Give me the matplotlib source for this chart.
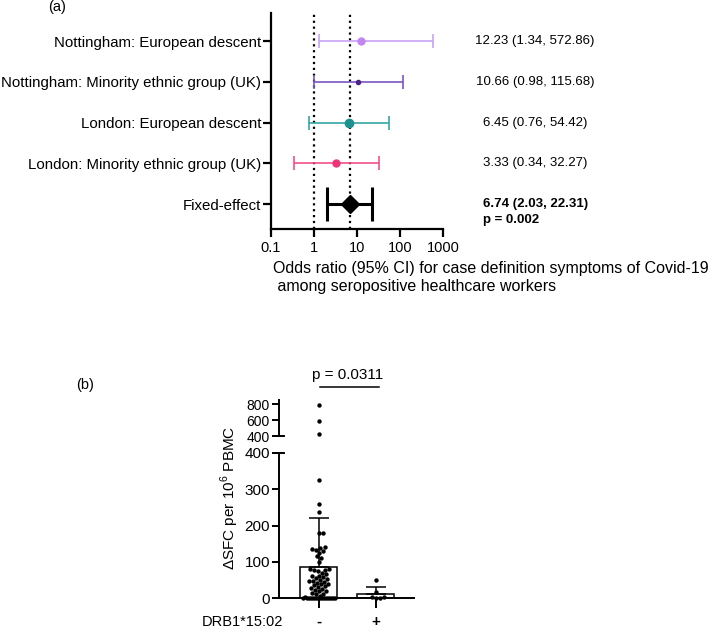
import numpy as np
import matplotlib
matplotlib.use('Agg')
import matplotlib.pyplot as plt
from matplotlib.ticker import NullLocator
from matplotlib.transforms import blended_transform_factory

plt.rcParams['font.family'] = ['Liberation Sans', 'DejaVu Sans']
plt.rcParams['mathtext.fontset'] = 'custom'
plt.rcParams['mathtext.rm'] = 'Liberation Sans'

# (a) odds ratios por grupo
grupos = ['Nottingham: European descent',
          'Nottingham: Minority ethnic group (UK)',
          'London: European descent',
          'London: Minority ethnic group (UK)',
          'Fixed-effect']
odds = [12.23, 10.66, 6.45, 3.33, 6.74]
ic_bajo = [1.34, 0.98, 0.76, 0.34, 2.03]
ic_alto = [572.86, 115.68, 54.42, 32.27, 22.31]
p_fijo = '0.002'
ticks_or = [0.1, 1, 10, 100, 1000]
etiq_or = ['0.1', '1', '10', '100', '1000']

# (b) SFC por grupo DRB1*15:02
sfc_neg = [790, 590, 425, 325, 260, 238, 180, 178, 140, 138, 135, 132, 130,
           125, 115, 110, 100, 80, 80, 78, 76, 75, 70, 65, 62, 60, 58, 55,
           52, 50, 48, 46, 45, 42, 40, 38, 35, 33, 30, 28, 25, 22, 20, 18,
           15, 12, 10, 5, 3] + [0] * 16
sfc_pos = [49, 17, 3, 2, 0, 0]
categorias = ['-', '+']
p_b = '0.0311'

colores_linea = ['#c9a2f5', '#7a55c2', '#35a6a4', '#f0508a']
colores_punto = ['#c186f2', '#4a2386', '#1d918e', '#ee3478']
tam_punto = [5, 3, 6, 5]

W, H = 709, 630
fig = plt.figure(figsize=(W / 100, H / 100), dpi=100)


def caja(x0, y0, x1, y1):
    # pixeles -> fraccion de figura
    return [x0 / W, 1 - y1 / H, (x1 - x0) / W, (y1 - y0) / H]


# ---------------- (a)
ax1 = fig.add_axes(caja(271, 13, 443, 229))
filas = [5, 4, 3, 2, 1]
for i in range(4):
    ax1.errorbar(odds[i], filas[i],
                 xerr=[[odds[i] - ic_bajo[i]], [ic_alto[i] - odds[i]]],
                 fmt='o', color=colores_linea[i], mfc=colores_punto[i],
                 mec=colores_punto[i], ms=tam_punto[i], elinewidth=1.2,
                 capsize=5, capthick=1.2, zorder=3)
ax1.errorbar(odds[4], filas[4],
             xerr=[[odds[4] - ic_bajo[4]], [ic_alto[4] - odds[4]]],
             fmt='D', color='black', ms=9, elinewidth=2.2, capsize=12,
             capthick=2.2, zorder=3)
ax1.axvline(1, color='black', ls=':', lw=1.6, zorder=1)
ax1.axvline(odds[4], color='black', ls=':', lw=1.6, zorder=1)

ax1.set_xscale('log')
ax1.set_xlim(0.1, 1000)
ax1.set_xticks(ticks_or)
ax1.set_xticklabels(etiq_or)
ax1.xaxis.set_minor_locator(NullLocator())
ax1.set_ylim(0.387, 5.69)
ax1.set_yticks(filas)
ax1.set_yticklabels(grupos)
for s in ['top', 'right']:
    ax1.spines[s].set_visible(False)
for s in ['left', 'bottom']:
    ax1.spines[s].set_linewidth(1.6)
ax1.tick_params(axis='y', width=1.6, length=6, labelsize=10.8, pad=1)
ax1.tick_params(axis='x', width=1.6, length=6, labelsize=10.5, pad=3)

tr = blended_transform_factory(ax1.transAxes, ax1.transData)
for i in range(4):
    ax1.text(1.535, filas[i], '%.2f (%.2f, %.2f)' % (odds[i], ic_bajo[i], ic_alto[i]),
             transform=tr, ha='center', va='center', fontsize=9.5)
ax1.text(1.233, filas[4], '%.2f (%.2f, %.2f)' % (odds[4], ic_bajo[4], ic_alto[4]),
         transform=tr, ha='left', va='center', fontsize=9.5, fontweight='bold')
ax1.text(1.233, filas[4] - 0.39, 'p = ' + p_fijo,
         transform=tr, ha='left', va='center', fontsize=9.5, fontweight='bold')

fig.text(273 / W, 1 - 268 / H,
         'Odds ratio (95% CI) for case definition symptoms of Covid-19',
         ha='left', va='center', fontsize=11.5)
fig.text(273 / W, 1 - 287 / H, ' among seropositive healthcare workers',
         ha='left', va='center', fontsize=11.5)
fig.text(57 / W, 1 - 7 / H, '(a)', ha='center', va='center', fontsize=10.5)


# ---------------- (b)
def enjambre(valores, esc_x, esc_y, diam, ancho_max):
    """Desplazamientos horizontales tipo beeswarm (en unidades de datos)."""
    orden = np.argsort(valores)
    cands = [0.0]
    for k in np.arange(1, ancho_max + 0.1, 1.0):
        cands += [k, -k]
    puestos = []
    desp = np.zeros(len(valores))
    for i in orden:
        py = valores[i] * esc_y
        mejor, mejor_d, mejor_c = None, -1, 0.0
        for c in cands:
            if puestos:
                d = min(np.hypot(c - qx, py - qy) for qx, qy in puestos)
            else:
                d = np.inf
            if d >= diam:
                mejor = c
                break
            if d > mejor_d:
                mejor_d, mejor_c = d, c
        if mejor is None:
            mejor = mejor_c
        puestos.append((mejor, py))
        desp[i] = mejor / esc_x
    return desp


ax_b = fig.add_axes(caja(279, 453, 414, 598))
ax_t = fig.add_axes(caja(279, 400, 414, 436))

x_cat = np.array([0, 1])
grupos_b = [np.array(sfc_neg, float), np.array(sfc_pos, float)]
medias = [g.mean() for g in grupos_b]
desv = [g.std(ddof=1) for g in grupos_b]

ax_b.bar(x_cat, medias, width=0.65, facecolor='white', edgecolor='black',
         linewidth=1.1, zorder=1)
ax_b.errorbar(x_cat, medias, yerr=[[0, 0], desv], fmt='none', ecolor='black',
              elinewidth=1.1, capsize=7, capthick=1.1, zorder=2)

esc_x = 57.0            # px por unidad de categoria
esc_y = 145 / 400.0     # px por unidad de SFC
for xc, g in zip(x_cat, grupos_b):
    bajos = g[g <= 400]
    dx = enjambre(bajos, esc_x, esc_y, 3.8, 17)
    ax_b.scatter(xc + dx, bajos, s=10, color='black', zorder=3, clip_on=False,
                 linewidths=0)
    altos = g[g > 400]
    if len(altos):
        ax_t.scatter(np.full(len(altos), xc), altos, s=10, color='black',
                     zorder=3, clip_on=False, linewidths=0)

ax_b.set_xlim(-0.70, 1.67)
ax_b.set_ylim(0, 400)
ax_b.set_yticks([0, 100, 200, 300, 400])
ax_b.set_xticks(x_cat)
ax_b.set_xticklabels(categorias, fontsize=11, fontweight='bold')
for s in ['top', 'right']:
    ax_b.spines[s].set_visible(False)
for s in ['left', 'bottom']:
    ax_b.spines[s].set_linewidth(1.4)
ax_b.tick_params(axis='y', width=1.4, length=5, labelsize=11, pad=1.5)
ax_b.tick_params(axis='x', width=1.4, length=7, pad=5)

ax_t.set_xlim(-0.70, 1.67)
ax_t.set_ylim(400, 850)
ax_t.set_yticks([400, 600, 800])
ax_t.set_xticks([])
for s in ['top', 'right', 'bottom']:
    ax_t.spines[s].set_visible(False)
ax_t.spines['left'].set_linewidth(1.4)
ax_t.tick_params(axis='y', width=1.4, length=5, labelsize=10, pad=1.5)

# remates del eje partido
for a in (ax_b, ax_t):
    trb = blended_transform_factory(a.transAxes, a.transData)
    a.plot([-0.04, 0.04], [400, 400], color='black', lw=1.4,
           transform=trb, clip_on=False)

# linea de significacion
fig.add_artist(plt.Line2D([320 / W, 379 / W], [1 - 387 / H, 1 - 387 / H],
                          color='black', lw=1.1))
fig.text(348 / W, 1 - 375 / H, 'p = ' + p_b, ha='center', va='center',
         fontsize=11)

fig.text(230 / W, 1 - 498 / H, r'ΔSFC per 10$^{6}$ PBMC', rotation=90,
         ha='center', va='center', fontsize=11)
fig.text(202 / W, 1 - 622 / H, 'DRB1*15:02', ha='left', va='center',
         fontsize=10.5)
fig.text(85 / W, 1 - 385 / H, '(b)', ha='center', va='center', fontsize=10.5)

fig.savefig('out.png', dpi=100)
